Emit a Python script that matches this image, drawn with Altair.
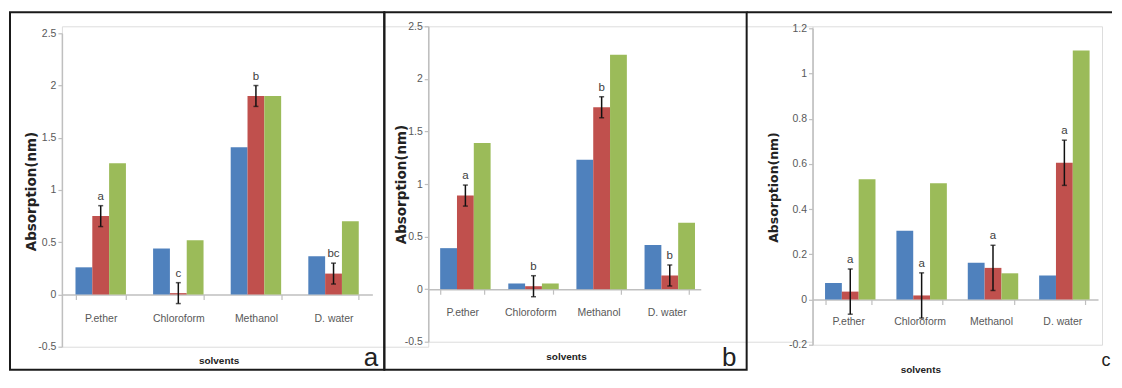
import altair as alt
import pandas as pd

solvents = ["P.ether", "Chloroform", "Methanol", "D. water"]
series = ["Series1", "Series2", "Series3"]
colors = ["#4F81BD", "#C0504D", "#9BBB59"]

# panel a
a_s1 = [0.26, 0.44, 1.41, 0.365]
a_s2 = [0.75, 0.013, 1.90, 0.20]
a_s3 = [1.255, 0.518, 1.90, 0.70]
a_err = [0.1, 0.1, 0.1, 0.1]
a_letters = ["a", "c", "b", "bc"]
a_ticks = [-0.5, 0, 0.5, 1, 1.5, 2, 2.5]

# panel b
b_s1 = [0.39, 0.054, 1.23, 0.42]
b_s2 = [0.89, 0.028, 1.73, 0.13]
b_s3 = [1.39, 0.054, 2.23, 0.632]
b_err = [0.1, 0.1, 0.1, 0.1]
b_letters = ["a", "b", "b", "b"]
b_ticks = [-0.5, 0, 0.5, 1, 1.5, 2, 2.5]

# panel c
c_s1 = [0.073, 0.304, 0.163, 0.106]
c_s2 = [0.035, 0.018, 0.14, 0.605]
c_s3 = [0.532, 0.514, 0.116, 1.102]
c_err = [0.1, 0.1, 0.1, 0.1]
c_letters = ["a", "a", "a", "a"]
c_ticks = [-0.2, 0, 0.2, 0.4, 0.6, 0.8, 1, 1.2]

NARROW = "Liberation Sans Narrow, Arial Narrow, Liberation Sans"
BOLD = "DejaVu Sans"
AXIS_GREY = "#bfbfbf"
LABEL_GREY = "#595959"


def make_panel(s1, s2, s3, err, letters, ticks, W, xr, H, yr, xoff, lpad,
               xtitle_pos, ytitle_pos, ytitle_size, border, tag, top_only=False):
    bars = pd.DataFrame({
        "solvent": solvents * 3,
        "series": [series[0]] * 4 + [series[1]] * 4 + [series[2]] * 4,
        "value": s1 + s2 + s3,
    })
    errs = pd.DataFrame({
        "solvent": solvents,
        "series": [series[1]] * 4,
        "value": s2,
        "lo": [v - e for v, e in zip(s2, err)],
        "hi": [v + e for v, e in zip(s2, err)],
        "letter": letters,
    })

    x_axis = alt.Axis(
        orient="bottom", offset=xoff, labelAngle=0, domainColor=AXIS_GREY,
        domainWidth=1.5, tickColor=AXIS_GREY, tickWidth=1.2, tickSize=5,
        tickBand="extent", labelFont=NARROW, labelFontSize=10.5,
        labelColor=LABEL_GREY, labelPadding=lpad, title="solvents",
        titleFont=NARROW, titleFontSize=10, titleFontWeight="bold",
        titleColor="#222222", titleX=xtitle_pos[0], titleY=xtitle_pos[1],
        titleAlign="center", titleBaseline="middle", grid=False,
    )
    y_axis = alt.Axis(
        values=ticks, labelExpr="'' + datum.value", grid=False,
        domainColor=AXIS_GREY, domainWidth=1.5, tickColor=AXIS_GREY,
        tickWidth=1.2, tickSize=4, labelFont=NARROW, labelFontSize=10.5,
        labelColor=LABEL_GREY, labelPadding=2, title="Absorption(nm)",
        titleFont=BOLD, titleFontSize=ytitle_size, titleFontWeight="bold",
        titleColor="#222222", titleAngle=270, titleX=ytitle_pos[0],
        titleY=ytitle_pos[1], titleAlign="center", titleBaseline="middle",
    )
    x_scale = alt.Scale(range=[0, xr], paddingInner=0.35, paddingOuter=0.175)
    y_scale = alt.Scale(domain=[ticks[0], ticks[-1]], range=[yr[0], yr[1]],
                        nice=False, zero=False)

    def X():
        return alt.X("solvent:N", sort=solvents, scale=x_scale, axis=x_axis)

    def XO():
        return alt.XOffset("series:N", sort=series,
                           scale=alt.Scale(paddingInner=0, paddingOuter=0))

    def Y(field):
        return alt.Y(field, type="quantitative", scale=y_scale, axis=y_axis)

    bar_layer = alt.Chart(bars).mark_bar().encode(
        x=X(), xOffset=XO(), y=Y("value"),
        color=alt.Color("series:N", sort=series,
                        scale=alt.Scale(domain=series, range=colors), legend=None),
    )
    rule_layer = alt.Chart(errs).mark_rule(color="#111111", strokeWidth=1.5).encode(
        x=X(), xOffset=XO(), y=Y("lo"), y2="hi:Q",
    )
    cap_hi = alt.Chart(errs).mark_tick(color="#111111", thickness=1.5, size=5).encode(
        x=X(), xOffset=XO(), y=Y("hi"),
    )
    cap_lo = alt.Chart(errs).mark_tick(color="#111111", thickness=1.5, size=5).encode(
        x=X(), xOffset=XO(), y=Y("lo"),
    )
    letter_layer = alt.Chart(errs).mark_text(
        font=NARROW, fontSize=11.5, color="#404040", baseline="bottom", dy=-4,
    ).encode(x=X(), xOffset=XO(), y=Y("hi"), text="letter:N")

    frame_df = pd.DataFrame({"k": [0]})
    if top_only:
        frame = alt.Chart(frame_df).mark_rule(color="#1a1a1a", strokeWidth=2).encode(
            x=alt.value(border[0]), x2=alt.value(border[1]), y=alt.value(border[2]),
        )
    else:
        frame = alt.Chart(frame_df).mark_rect(
            filled=False, stroke="#1a1a1a", strokeWidth=2,
        ).encode(
            x=alt.value(border[0]), x2=alt.value(border[1]),
            y=alt.value(border[2]), y2=alt.value(border[3]),
        )
    tag_df = pd.DataFrame({"t": [tag[0]]})
    tag_layer = alt.Chart(tag_df).mark_text(
        font="Liberation Sans", fontSize=tag[3], color="#222222",
        align="center", baseline="alphabetic",
    ).encode(x=alt.value(tag[1]), y=alt.value(tag[2]), text="t:N")

    return alt.layer(
        bar_layer, rule_layer, cap_hi, cap_lo, letter_layer, frame, tag_layer
    ).properties(width=W, height=H)


panel_a = make_panel(a_s1, a_s2, a_s3, a_err, a_letters, a_ticks,
                     W=367, xr=311, H=321, yr=[321, 7], xoff=-52.33, lpad=14,
                     xtitle_pos=(157, 66), ytitle_pos=(-30, 165), ytitle_size=13.5,
                     border=(-52, 323, -14, 344), tag=("a", 309.5, 340, 26))
panel_b = make_panel(b_s1, b_s2, b_s3, b_err, b_letters, b_ticks,
                     W=385, xr=273, H=316, yr=[316, 0], xoff=-52.67, lpad=13,
                     xtitle_pos=(138, 67.5), ytitle_pos=(-27, 158), ytitle_size=13.5,
                     border=(-44, 319, -14, 344), tag=("b", 301.5, 340, 26))
panel_c = make_panel(c_s1, c_s2, c_s3, c_err, c_letters, c_ticks,
                     W=290, xr=286, H=319, yr=[319, 2], xoff=-45.29, lpad=12,
                     xtitle_pos=(108, 70), ytitle_pos=(-39, 161), ytitle_size=12.5,
                     border=(-66, 300, -14, 344), tag=("c", 294, 340, 18),
                     top_only=True)

chart = alt.hconcat(panel_a, panel_b, panel_c, spacing=0, bounds="flush").properties(
    padding={"left": 0, "top": 2, "right": 0, "bottom": 0}
).configure_view(strokeWidth=0).configure(background="white")

chart.save("out.html", embed_options={"renderer": "svg", "actions": False})
